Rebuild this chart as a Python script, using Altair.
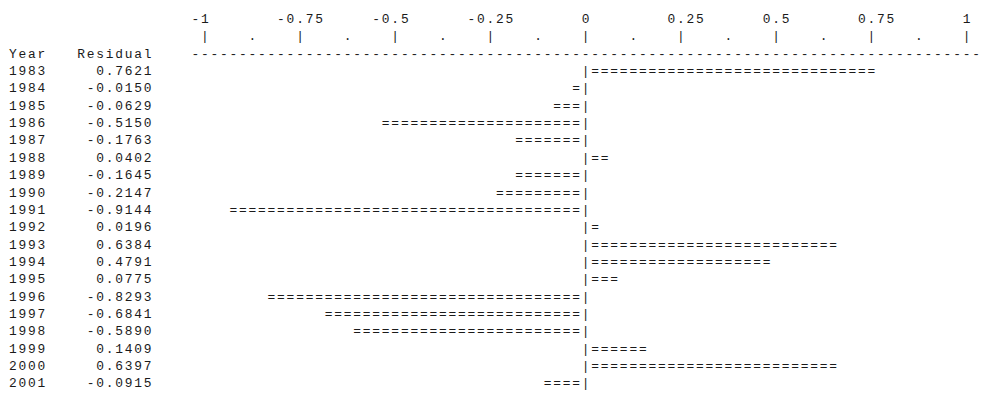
import altair as alt
import pandas as pd

# ---- data ----
title_text = "UNWEIGHTED LOG RESIDUAL PLOT FOR DATA SERIES # 1"
years = [1983, 1984, 1985, 1986, 1987, 1988, 1989, 1990, 1991, 1992,
         1993, 1994, 1995, 1996, 1997, 1998, 1999, 2000, 2001]
residuals = [0.7621, -0.0150, -0.0629, -0.5150, -0.1763, 0.0402, -0.1645,
             -0.2147, -0.9144, 0.0196, 0.6384, 0.4791, 0.0775, -0.8293,
             -0.6841, -0.5890, 0.1409, 0.6397, -0.0915]
tick_values = [-1, -0.75, -0.5, -0.25, 0, 0.25, 0.5, 0.75, 1]
tick_labels = ["-1", "-0.75", "-0.5", "-0.25", "0", "0.25", "0.5", "0.75", "1"]
header_year = "Year"
header_resid = "Residual"

# ---- text grid: one character cell = 0.025 residual units ----
UNIT = 0.025
ZERO_COL = 61
cells = []


def put(row, col, s, group="main"):
    for i, ch in enumerate(s):
        if ch != " ":
            cells.append({"row": row, "xv": (col + i - ZERO_COL) * UNIT,
                          "ch": ch, "group": group})


put(0, 0, title_text, "year")

for v, lab in zip(tick_values, tick_labels):
    tc = ZERO_COL + round(v / UNIT)
    anchor = lab.index(".") if "." in lab else len(lab) - 1
    put(1, tc - anchor, lab)
    put(2, tc, "|")
    if v < 1:
        put(2, tc + 5, ".")

put(3, 0, header_year, "year")
put(3, 8, header_resid)
put(3, 20, "-" * 83)

for k, (yr, v) in enumerate(zip(years, residuals)):
    r = 4 + k
    put(r, 0, str(yr), "year")
    s = f"{v:.4f}"
    put(r, 16 - len(s), s)
    put(r, ZERO_COL, "|")
    n = round(abs(v) / UNIT)
    if v < 0:
        put(r, ZERO_COL - n, "=" * n)
    else:
        put(r, ZERO_COL + 1, "=" * n)

df = pd.DataFrame(cells)

xscale = alt.Scale(domain=[-1, 1], range=[198.4, 966.4])
yscale = alt.Scale(domain=[0, 22], range=[-8, 377])

base = alt.Chart(df).encode(
    x=alt.X("xv:Q", scale=xscale, axis=None),
    y=alt.Y("row:Q", scale=yscale, axis=None),
    text=alt.Text("ch:N"),
)

text_style = dict(font="Liberation Mono", fontSize=13, align="center",
                  baseline="middle", color="#1a1a1a")

main = base.transform_filter(alt.datum.group == "main").mark_text(**text_style)
yearcol = base.transform_filter(alt.datum.group == "year").mark_text(
    dx=8, **text_style)

chart = alt.layer(main, yearcol).properties(
    width=980, height=383,
    autosize=alt.AutoSizeParams(type="none"),
    padding=0,
    background="white",
).configure_view(stroke=None)

chart.save("out.html", embed_options={"renderer": "svg", "actions": False})
